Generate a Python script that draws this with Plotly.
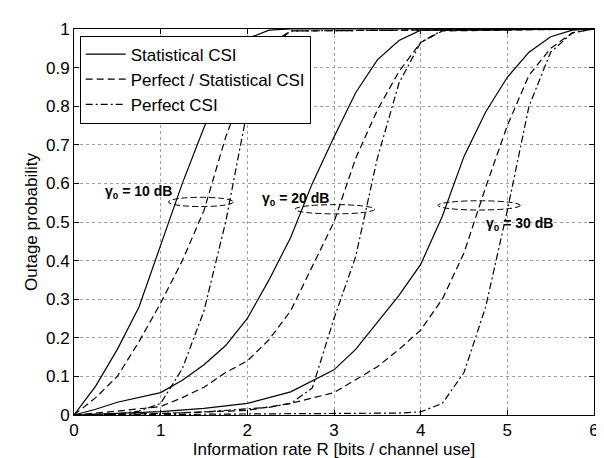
import plotly.graph_objects as go

# ---- data ----
stat_10_x = [0, 0.25, 0.5, 0.75, 1.0, 1.25, 1.5, 1.75, 2.0, 2.25, 2.5, 6]
stat_10_y = [0, 0.075, 0.17, 0.28, 0.44, 0.60, 0.745, 0.87, 0.975, 0.997, 1.0, 1.0]
pstat_10_x = [0, 0.25, 0.5, 0.75, 1.0, 1.25, 1.5, 1.75, 2.0, 2.25, 2.5, 6]
pstat_10_y = [0, 0.045, 0.10, 0.19, 0.29, 0.40, 0.53, 0.72, 0.87, 0.96, 0.995, 1.0]
perf_10_x = [0, 0.5, 0.75, 1.0, 1.25, 1.5, 1.75, 2.0, 2.25, 2.5, 6]
perf_10_y = [0, 0.003, 0.01, 0.03, 0.12, 0.27, 0.50, 0.79, 0.95, 0.995, 1.0]

stat_20_x = [0, 0.25, 0.5, 0.75, 1.0, 1.25, 1.5, 1.75, 2.0, 2.25, 2.5, 2.75, 3.0, 3.25, 3.5, 3.75, 4.0, 6]
stat_20_y = [0, 0.015, 0.033, 0.045, 0.058, 0.09, 0.13, 0.18, 0.25, 0.35, 0.46, 0.60, 0.72, 0.835, 0.92, 0.97, 0.997, 1.0]
pstat_20_x = [0, 0.5, 1.0, 1.25, 1.5, 1.75, 2.0, 2.25, 2.5, 2.75, 3.0, 3.25, 3.5, 3.75, 4.0, 4.25, 6]
pstat_20_y = [0, 0.01, 0.022, 0.045, 0.072, 0.11, 0.14, 0.195, 0.27, 0.385, 0.50, 0.665, 0.79, 0.89, 0.965, 0.995, 1.0]
perf_20_x = [0, 1.0, 1.5, 2.0, 2.25, 2.5, 2.75, 3.0, 3.25, 3.5, 3.75, 4.0, 4.25, 6]
perf_20_y = [0, 0.003, 0.008, 0.015, 0.02, 0.03, 0.07, 0.25, 0.41, 0.665, 0.86, 0.965, 0.997, 1.0]

stat_30_x = [0, 0.5, 1.0, 1.5, 2.0, 2.5, 3.0, 3.25, 3.5, 3.75, 4.0, 4.25, 4.5, 4.75, 5.0, 5.25, 5.5, 5.75, 6]
stat_30_y = [0, 0.004, 0.009, 0.017, 0.03, 0.06, 0.117, 0.17, 0.24, 0.31, 0.39, 0.515, 0.67, 0.785, 0.875, 0.94, 0.98, 0.997, 1.0]
pstat_30_x = [0, 1.0, 2.0, 2.5, 3.0, 3.5, 3.75, 4.0, 4.25, 4.5, 4.75, 5.0, 5.25, 5.5, 5.75, 6]
pstat_30_y = [0, 0.004, 0.012, 0.03, 0.058, 0.125, 0.17, 0.22, 0.30, 0.42, 0.59, 0.75, 0.88, 0.95, 0.99, 1.0]
perf_30_x = [0, 1.0, 2.0, 3.0, 3.5, 3.75, 4.0, 4.25, 4.5, 4.75, 5.0, 5.25, 5.5, 5.75, 6]
perf_30_y = [0, 0.001, 0.002, 0.003, 0.004, 0.005, 0.008, 0.03, 0.11, 0.28, 0.53, 0.80, 0.94, 0.99, 1.0]

series_names = ["Statistical CSI", "Perfect / Statistical CSI", "Perfect CSI"]
snr_labels = ["10", "20", "30"]
x_ticks = [0, 1, 2, 3, 4, 5, 6]
y_ticks = [0, 0.1, 0.2, 0.3, 0.4, 0.5, 0.6, 0.7, 0.8, 0.9, 1]
y_tick_text = ["0", "0.1", "0.2", "0.3", "0.4", "0.5", "0.6", "0.7", "0.8", "0.9", "1"]

FONT = "Liberation Sans, Arial, Helvetica, sans-serif"
FS = 17
dashes = ["solid", "7px,4px", "7px,3px,2px,3px"]

groups = [
    [(stat_10_x, stat_10_y), (pstat_10_x, pstat_10_y), (perf_10_x, perf_10_y)],
    [(stat_20_x, stat_20_y), (pstat_20_x, pstat_20_y), (perf_20_x, perf_20_y)],
    [(stat_30_x, stat_30_y), (pstat_30_x, pstat_30_y), (perf_30_x, perf_30_y)],
]

fig = go.Figure()
for gi, grp in enumerate(groups):
    for si, (xs, ys) in enumerate(grp):
        fig.add_trace(go.Scatter(
            x=xs, y=ys, mode="lines", name=series_names[si],
            legendgroup=series_names[si], showlegend=(gi == 0),
            line=dict(color="black", width=1.2, dash=dashes[si]),
        ))

# annotation text and ellipses
ann = [
    (0.74, 0.578, snr_labels[0]),
    (2.56, 0.56, snr_labels[1]),
    (5.14, 0.496, snr_labels[2]),
]
for ax_, ay_, lab in ann:
    fig.add_annotation(x=ax_, y=ay_, xref="x", yref="y", showarrow=False,
                       text="<b>γ<sub>0</sub> = %s dB</b>" % lab,
                       font=dict(family=FONT, size=14, color="black"))

ellipses = [(1.09, 1.84, 0.552), (2.55, 3.47, 0.533), (4.2, 5.15, 0.543)]
for x0, x1, yc in ellipses:
    fig.add_shape(type="circle", xref="x", yref="y", x0=x0, x1=x1,
                  y0=yc - 0.012, y1=yc + 0.012,
                  line=dict(color="black", width=1, dash="6px,3px"))

axis_common = dict(
    showline=True, linecolor="black", linewidth=1, mirror="ticks",
    ticks="inside", ticklen=5, tickcolor="black",
    showgrid=True, gridcolor="#a0a0a0", griddash="dot", gridwidth=1,
    zeroline=False, tickfont=dict(family=FONT, size=FS, color="black"),
)

fig.update_xaxes(range=[0, 6], tickvals=x_ticks,
                 title=dict(text="Information rate R [bits / channel use]",
                            font=dict(family=FONT, size=FS, color="black"), standoff=2),
                 **axis_common)
fig.update_yaxes(range=[0, 1], tickvals=y_ticks, ticktext=y_tick_text,
                 title=dict(text="Outage probability",
                            font=dict(family=FONT, size=FS, color="black"), standoff=4),
                 **axis_common)

fig.update_layout(
    width=604, height=458,
    margin=dict(l=66, r=18, t=13, b=45),
    paper_bgcolor="white", plot_bgcolor="white",
    font=dict(family=FONT, size=FS, color="black"),
    legend=dict(x=0.011, y=0.983, xanchor="left", yanchor="top",
                bgcolor="white", bordercolor="black", borderwidth=1,
                font=dict(family=FONT, size=FS, color="black"),
                tracegroupgap=0, itemwidth=40),
    showlegend=True,
)

fig.write_html("out.html")
